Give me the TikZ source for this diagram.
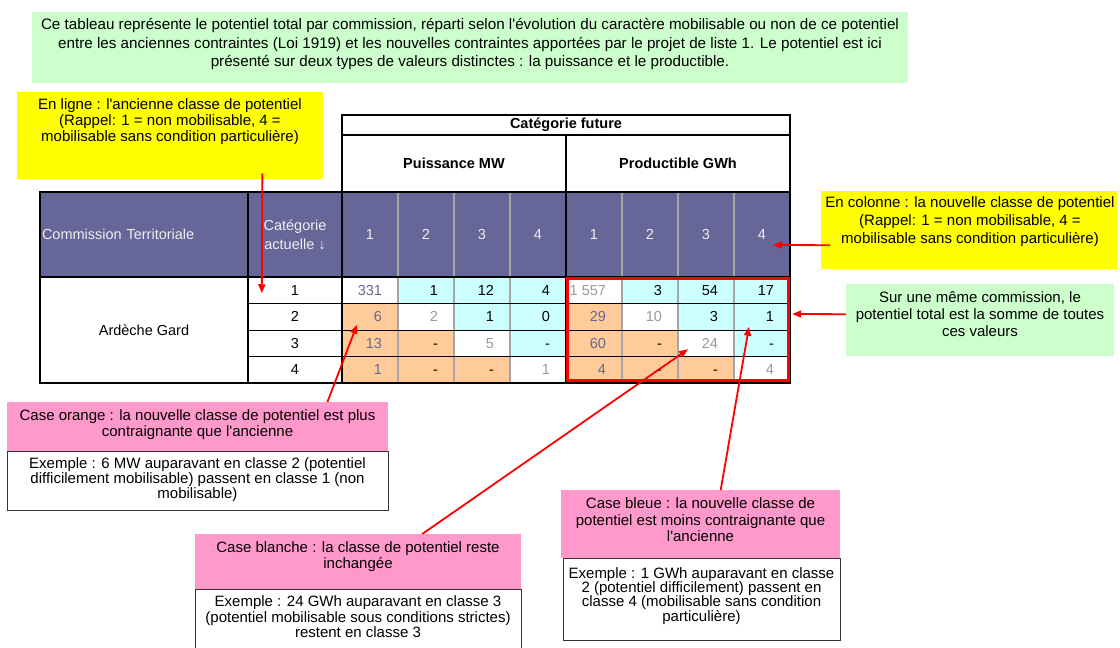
\documentclass[tikz,border=0pt]{standalone}
\usepackage{fontspec}
\setmainfont{Liberation Sans}
\usetikzlibrary{arrows.meta}

\definecolor{notegreen}{HTML}{CCFFCC}
\definecolor{noteyellow}{HTML}{FFFF00}
\definecolor{notepink}{HTML}{FF99CC}
\definecolor{hdrpurple}{HTML}{666699}
\definecolor{hdrtext}{HTML}{EEEEEE}
\definecolor{cellcyan}{HTML}{CCFFFF}
\definecolor{cellorange}{HTML}{FFCC99}
\definecolor{valpurple}{HTML}{666699}
\definecolor{valgray}{HTML}{999999}

\tikzset{
  note/.style={anchor=north west, inner sep=0pt},
  notetext/.style={align=center, inner sep=0pt, font=\fontsize{15}{16}\selectfont},
  example/.style={anchor=north west, inner sep=0pt, draw=black!80, line width=0.8pt, fill=white},
  hdr/.style={fill=hdrpurple, text=hdrtext, minimum height=85pt, inner sep=0pt},
  hdrbold/.style={inner sep=0pt, font=\fontsize{14.5}{16}\selectfont\bfseries},
  cell/.style={minimum width=56pt, minimum height=26.5pt, inner sep=0pt},
  val/.style={anchor=base east, inner sep=0pt},
  border/.style={line width=2.4pt},
  colsep/.style={gray!70, line width=1.6pt},
  rowline/.style={line width=1.3pt},
  redarrow/.style={red, line width=1.8pt, -{Triangle[length=9pt,width=7pt]}},
}

\begin{document}
\begin{tikzpicture}[x=1pt, y=-1pt, font=\fontsize{14.5}{16}\selectfont]
\useasboundingbox (0,0) rectangle (1120,648);

% notes round the table
\node[note, fill=notegreen, minimum width=876pt, minimum height=71pt] (intro) at (32,12) {};
\node[notetext, font=\fontsize{15.2}{18.5}\selectfont] (intro-t) at (470,44) {Ce tableau représente le potentiel total par commission, réparti selon l\textquotesingle évolution du caractère mobilisable ou non de ce potentiel\\entre les anciennes contraintes (Loi 1919) et les nouvelles contraintes apportées par le projet de liste 1. Le potentiel est ici\\présenté sur deux types de valeurs distinctes : la puissance et le productible.};

\node[note, fill=noteyellow, minimum width=306pt, minimum height=87pt] (ligne) at (17,92) {};
\node[notetext] (ligne-t) at (170,122) {En ligne : l\textquotesingle ancienne classe de potentiel\\(Rappel: 1 = non mobilisable, 4 =\\mobilisable sans condition particulière)};

\node[note, fill=noteyellow, minimum width=296pt, minimum height=78pt] (colonne) at (821,191) {};
\node[notetext, font=\fontsize{15}{18}\selectfont] (colonne-t) at (970,222) {En colonne : la nouvelle classe de potentiel\\(Rappel: 1 = non mobilisable, 4 =\\mobilisable sans condition particulière)};

\node[note, fill=notegreen, minimum width=268pt, minimum height=72pt] (somme) at (846,284) {};
\node[notetext, font=\fontsize{15}{17}\selectfont] (somme-t) at (980,314) {Sur une même commission, le\\potentiel total est la somme de toutes\\ces valeurs};

% legend boxes
\node[example, minimum width=381pt, minimum height=59pt] (ex-orange) at (7,451) {};
\node[note, fill=notepink, minimum width=381pt, minimum height=49pt] (orange) at (7,402) {};
\node[notetext] (orange-t) at (197.5,425) {Case orange : la nouvelle classe de potentiel est plus\\contraignante que l\textquotesingle ancienne};
\node[notetext, font=\fontsize{15}{15}\selectfont] (ex-orange-t) at (197.5,480) {Exemple : 6 MW auparavant en classe 2 (potentiel\\difficilement mobilisable) passent en classe 1 (non\\mobilisable)};

\node[example, minimum width=326pt, minimum height=63pt] (ex-blanche) at (195,589) {};
\node[note, fill=notepink, minimum width=326pt, minimum height=55pt] (blanche) at (195,534) {};
\node[notetext] (blanche-t) at (358,557) {Case blanche : la classe de potentiel reste\\inchangée};
\node[notetext, font=\fontsize{15}{15.5}\selectfont] (ex-blanche-t) at (358,617) {Exemple : 24 GWh auparavant en classe 3\\(potentiel mobilisable sous conditions strictes)\\restent en classe 3};

\node[example, minimum width=277pt, minimum height=82pt] (ex-bleue) at (563,558) {};
\node[note, fill=notepink, minimum width=279pt, minimum height=68pt] (bleue) at (561,490) {};
\node[notetext, font=\fontsize{15}{16.5}\selectfont] (bleue-t) at (700.5,520) {Case bleue : la nouvelle classe de\\potentiel est moins contraignante que\\l\textquotesingle ancienne};
\node[notetext, font=\fontsize{15}{14}\selectfont] (ex-bleue-t) at (701.5,596) {Exemple : 1 GWh auparavant en classe\\2 (potentiel difficilement) passent en\\classe 4 (mobilisable sans condition\\particulière)};

% table head
\node[hdrbold, minimum width=448pt, minimum height=20pt] (futur) at (566,125) {Catégorie future};
\node[hdrbold, minimum width=224pt, minimum height=57pt] (puiss) at (454,163.5) {Puissance MW};
\node[hdrbold, minimum width=224pt, minimum height=57pt] (prod) at (678,163.5) {Productible GWh};
\node[hdr, minimum width=208pt, text width=204pt, align=left] (commission) at (144,234.5) {Commission Territoriale};
\node[hdr, minimum width=94pt, align=center, font=\fontsize{14.5}{19}\selectfont] (actuelle) at (295,234.5) {Catégorie\\actuelle ↓};
\foreach \blk/\xo in {p/342, g/566}
  \foreach \cc in {1,...,4}
    \node[hdr, minimum width=56pt] (h\blk\cc) at (\xo+56*\cc-28, 234.5) {\cc};

% table body
\node[minimum width=208pt, minimum height=106pt, inner sep=0pt] (ardeche) at (144,330) {Ardèche Gard};
\foreach \rr in {1,...,4}
  \node[cell, minimum width=94pt] (cat\rr) at (295, 277+26.5*\rr-13.25) {\rr};
\foreach \blk/\xo in {p/342, g/566}
  \foreach \rr in {1,...,4}
    \foreach \cc in {1,...,4} {
      \ifnum\cc<\rr \def\cf{cellorange}\else\ifnum\cc=\rr \def\cf{white}\else\def\cf{cellcyan}\fi\fi
      \node[cell, fill=\cf] (\blk\rr\cc) at (\xo+56*\cc-28, 277+26.5*\rr-13.25) {};
    }
\foreach \blk/\vals in {p/{\textcolor{valpurple}{331},1,12,4,6,2,1,0,13,-,5,-,1,-,-,1},
                        g/{1~557,3,54,17,29,10,3,1,60,-,24,-,4,-,-,4}}
  \foreach \v [count=\n from 0] in \vals {
    \pgfmathtruncatemacro{\rr}{floor(\n/4)+1}
    \pgfmathtruncatemacro{\cc}{mod(\n,4)+1}
    \def\vc{black}\ifnum\cc=1 \def\vc{valpurple}\fi\ifnum\cc=\rr \def\vc{valgray}\fi
    \node[val, text=\vc] (v\blk\rr\cc) at ([xshift=-16pt,yshift=-5pt]\blk\rr\cc.east) {\v};
  }

% rules of the table
\foreach \blk in {p,g}
  \foreach \cc in {1,2,3}
    \draw[colsep] (h\blk\cc.north east) -- (\blk4\cc.south east);
\foreach \rr in {1,2,3}
  \draw[rowline] (cat\rr.south west) -- (g\rr4.south east);
\draw[border] (commission.north west) rectangle (g44.south east);
\draw[border] (futur.north west) rectangle (prod.south east);
\draw[border] (futur.south west) -- (futur.south east);
\draw[border] (prod.north west) -- (g41.south west);
\draw[border] (actuelle.north west) -- (cat4.south west);
\draw[border] (actuelle.north east) -- (cat4.south east);
\draw[border] (commission.south west) -- (hg4.south east);
\draw[red, line width=3pt] ([xshift=1.5pt,yshift=-1.5pt]g11.north west) rectangle ([xshift=-1.5pt,yshift=2.5pt]g44.south east);

% arrows
\draw[redarrow] ([xshift=-61pt,yshift=6pt]ligne.south east) -- ([xshift=14pt,yshift=-3pt]cat1.west);
\draw[redarrow] ([xshift=9pt,yshift=-15pt]colonne.west) -- ([xshift=11pt,yshift=-10.5pt]hg4.center);
\draw[redarrow] ([yshift=6pt]somme.west) -- ([xshift=2pt,yshift=2.75pt]g24.east);
\draw[redarrow] ([xshift=-61pt]orange.north east) -- ([xshift=-13pt,yshift=-8pt]p21.center);
\draw[redarrow] ([xshift=64pt]blanche.north) -- ([xshift=-18pt,yshift=-6pt]g33.center);
\draw[redarrow] ([xshift=20pt]bleue.north) -- ([xshift=-13pt,yshift=-10pt]g24.center);
\end{tikzpicture}
\end{document}
